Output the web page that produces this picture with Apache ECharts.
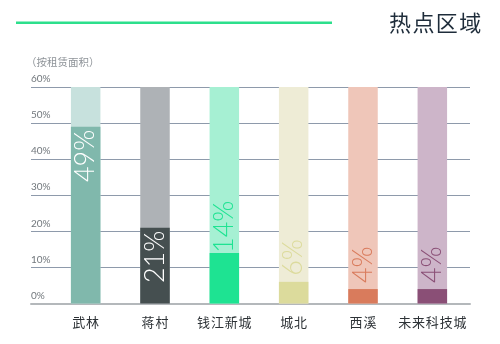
<!DOCTYPE html>
<html>
<head>
<meta charset="utf-8">
<script src="https://cdn.jsdelivr.net/npm/echarts@6/dist/echarts.min.js"></script>
<style>
html,body{margin:0;padding:0;background:#fff;}
#chart{width:500px;height:344px;}
</style>
</head>
<body>
<div id="chart"></div>
<script>
// 热点区域 — share of leased area by district
const categories = ['武林', '蒋村', '钱江新城', '城北', '西溪', '未来科技城'];
const shares = [49, 21, 14, 6, 4, 4];
const yTicks = [0, 10, 20, 30, 40, 50, 60];
const yMax = 60;

// track (light) and fill (dark) colour per district
const trackColors = ['#c7e1dd', '#aeb2b6', '#a6f0d3', '#eeecd6', '#efc6b9', '#cdb5c9'];
const fillColors = ['#80b8ac', '#454f50', '#1ee392', '#dcdb9c', '#d97b5c', '#8a4f76'];
// label colour: white inside tall bars, district colour above short ones
const labelInside = [true, true, false, false, false, false];

const FONT = '"Noto Sans CJK SC", "Noto Sans", sans-serif';
const NUM_FONT = 'Lato, "Noto Sans", sans-serif';

const trackData = categories.map((c, i) => ({
  value: yMax,
  itemStyle: { color: trackColors[i] }
}));

const fillData = shares.map((v, i) => ({
  value: v,
  itemStyle: { color: fillColors[i] },
  label: labelInside[i]
    ? { position: 'insideTop', align: 'right', distance: 3, color: '#ffffff' }
    : { position: 'top', align: 'left', distance: i === 2 ? 0 : 6, color: fillColors[i] }
}));

const chart = echarts.init(document.getElementById('chart'), null, { renderer: 'canvas' });

chart.setOption({
  animation: false,
  backgroundColor: '#ffffff',
  graphic: [
    { type: 'rect', shape: { x: 16, y: 21.5, width: 316, height: 2.6 }, style: { fill: '#2ddf8c' } },
    { type: 'text', left: 389, top: 12, style: { text: '热\u200a点\u200a区\u200a域', font: '400 22px ' + FONT, fill: '#1e2c3a' } },
    { type: 'text', left: 26, top: 57, style: { text: '（按租赁面积）', font: '400 10.5px ' + FONT, fill: '#8f9499' } }
  ],
  grid: [
    { left: 51, width: 416, top: 87, bottom: 40.5 },
    { left: 31, right: 30, top: 87, bottom: 40.5 }
  ],
  xAxis: [
    {
      type: 'category', gridIndex: 0, data: categories,
      axisLine: { show: false }, axisTick: { show: false },
      axisLabel: { interval: 0, color: '#2d3236', fontSize: 13, fontFamily: FONT, margin: 12,
        formatter: s => s.split('').join('\u200a') }
    },
    {
      type: 'category', gridIndex: 1, data: [''],
      axisLine: { show: true, lineStyle: { color: '#b4b8bb', width: 2 } },
      axisTick: { show: false }, axisLabel: { show: false }
    }
  ],
  yAxis: [
    {
      type: 'value', gridIndex: 0, min: 0, max: yMax, interval: 10,
      show: false, splitLine: { show: false }
    },
    {
      type: 'value', gridIndex: 1, min: yTicks[0], max: yTicks[yTicks.length - 1], interval: 10,
      axisLine: { show: false }, axisTick: { show: false },
      axisLabel: {
        inside: true, margin: 0, align: 'left', verticalAlign: 'bottom',
        padding: [0, 0, 3, 0], color: '#71777c', fontSize: 10, fontFamily: NUM_FONT,
        formatter: v => v + '%'
      },
      splitLine: { show: true, lineStyle: { color: '#8e9aab', width: 1 } }
    }
  ],
  series: [
    {
      type: 'bar', xAxisIndex: 0, yAxisIndex: 0, data: trackData,
      barWidth: 29.5, barGap: '-100%', silent: true, z: 2
    },
    {
      type: 'bar', xAxisIndex: 0, yAxisIndex: 0, data: fillData,
      barWidth: 29.5, barGap: '-100%', z: 3,
      label: {
        show: true, rotate: 90, verticalAlign: 'middle',
        fontFamily: NUM_FONT, fontWeight: 300, fontSize: 27,
        formatter: p => p.value + '%'
      }
    }
  ]
});
</script>
</body>
</html>
